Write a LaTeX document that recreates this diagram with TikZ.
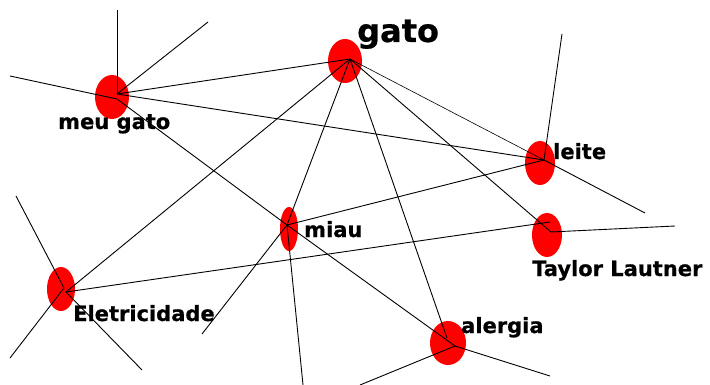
\documentclass[tikz,border=0pt]{standalone}
\usepackage{fontspec}
\newfontfamily\lblfont[BoldFeatures={FakeBold=0.6}]{DejaVu Sans}
\begin{document}
\begin{tikzpicture}[x=1pt,y=-1pt,
  link/.style={draw=black, line width=0.9pt},
  lbl/.style={anchor=base west, inner sep=0pt, font=\lblfont\bfseries\fontsize{21}{21}\selectfont},
  big/.style={anchor=base west, inner sep=0pt, font=\lblfont\bfseries\fontsize{32}{32}\selectfont}]
\useasboundingbox (0,0) rectangle (710,385);
\fill[white] (0,0) rectangle (710,385);
% ellipses
\path[fill=red] (345,61) ellipse [x radius=17, y radius=22];
\path[fill=red] (112,97) ellipse [x radius=17, y radius=22];
\path[fill=red] (540,163) ellipse [x radius=15, y radius=22];
\path[fill=red] (289,229) ellipse [x radius=9, y radius=22];
\path[fill=red] (547,235) ellipse [x radius=15, y radius=22];
\path[fill=red] (61,289) ellipse [x radius=14, y radius=22];
\path[fill=red] (448,343) ellipse [x radius=18, y radius=22];
% hubs
\coordinate (gH) at (350,59);
\coordinate (mgH) at (117,94);
\coordinate (mgH2) at (117,99);
\coordinate (lH) at (544,160);
\coordinate (miH) at (287,225);
\coordinate (tlA) at (550,222);
\coordinate (tlB) at (551,232);
\coordinate (eH) at (64,288);
\coordinate (eH2) at (66,292);
\coordinate (aH) at (447,338);
\coordinate (aH2) at (455,346);
% free ends
\coordinate (f1) at (117,10);
\coordinate (f2) at (208,22);
\coordinate (f3) at (10,76);
\coordinate (f4) at (562,34);
\coordinate (f5) at (645,213);
\coordinate (f6) at (202,334);
\coordinate (f7) at (303,385);
\coordinate (f8) at (16,196);
\coordinate (f9) at (10,358);
\coordinate (f10) at (142,370);
\coordinate (f11) at (675,226);
\coordinate (f12) at (360,385);
\coordinate (f13) at (550,376);
% connectors
\draw[link] (gH) -- (mgH);
\draw[link, line width=0.6pt] (gH) -- (lH);
\draw[link] (gH) -- (eH2);
\draw[link] (gH) -- (miH);
\draw[link] (gH) -- (aH);
\draw[link] (gH) -- (tlB);
\draw[link] (mgH) -- (f1);
\draw[link] (mgH) -- (f2);
\draw[link] (mgH2) -- (f3);
\draw[link] (mgH2) -- (miH);
\draw[link] (mgH) -- (lH);
\draw[link] (lH) -- (f4);
\draw[link] (lH) -- (f5);
\draw[link] (lH) -- (miH);
\draw[link] (miH) -- (aH2);
\draw[link] (miH) -- (f6);
\draw[link] (miH) -- (f7);
\draw[link] (eH) -- (f8);
\draw[link] (eH) -- (f9);
\draw[link] (eH2) -- (f10);
\draw[link] (eH2) -- (tlA);
\draw[link] (tlB) -- (f11);
\draw[link] (aH2) -- (f12);
\draw[link] (aH2) -- (f13);
% labels
\node[big] (tgato) at (357,42) {gato};
\node[lbl] (tmeu) at (58,129) {meu gato};
\node[lbl] (tleite) at (553,159) {leite};
\node[lbl] (tmiau) at (304,237) {miau};
\node[lbl] (ttl) at (532,276) {Taylor Lautner};
\node[lbl] (tel) at (73,321) {Eletricidade};
\node[lbl] (tal) at (461,333) {alergia};
\end{tikzpicture}
\end{document}
